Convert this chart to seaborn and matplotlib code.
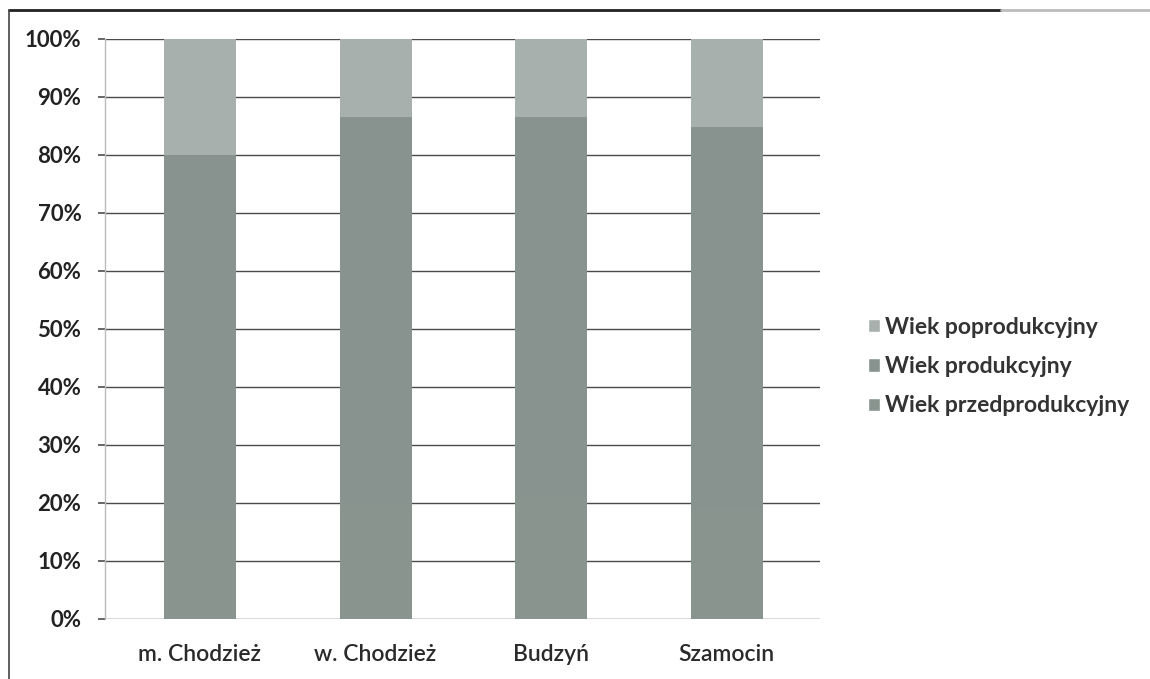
import numpy as np
import pandas as pd
import matplotlib
matplotlib.use("Agg")
import matplotlib.pyplot as plt
import seaborn as sns
from matplotlib.lines import Line2D
from matplotlib.patches import Patch
from matplotlib.ticker import PercentFormatter

categories = ["m. Chodzież", "w. Chodzież", "Budzyń", "Szamocin"]
przedprodukcyjny = [17.0, 20.0, 21.0, 19.0]
produkcyjny = [63.0, 66.6, 65.6, 65.8]
poprodukcyjny = [20.0, 13.4, 13.4, 15.2]
series_names = ["Wiek przedprodukcyjny", "Wiek produkcyjny", "Wiek poprodukcyjny"]
colors = ["#89948f", "#88938f", "#a7b0ac"]
y_ticks = [0, 10, 20, 30, 40, 50, 60, 70, 80, 90, 100]

sns.set_theme(style="white")
plt.rcParams['font.family'] = ['Lato', 'DejaVu Sans']

df = pd.DataFrame({
    "cat": categories,
    "przed": przedprodukcyjny,
    "prod": produkcyjny,
    "po": poprodukcyjny,
})
df["c1"] = df["przed"]
df["c2"] = df["przed"] + df["prod"]
df["c3"] = df["c2"] + df["po"]

fig = plt.figure(figsize=(11.5, 6.79), dpi=100)
ax = fig.add_axes([0.0913, 0.0884, 0.6217, 0.8542])

for col, c in zip(["c3", "c2", "c1"], [colors[2], colors[1], colors[0]]):
    sns.barplot(data=df, x="cat", y=col, color=c, width=0.41, ax=ax,
                saturation=1, edgecolor="none", linewidth=0, zorder=3)

ax.set_ylim(0, 100)
ax.set_xlim(-0.54, 3.53)
ax.set_yticks(y_ticks)
ax.yaxis.set_major_formatter(PercentFormatter(decimals=0))
ax.grid(axis="y", color="#4a4a4a", linewidth=1.0, zorder=0)
ax.set_axisbelow(True)
for s in ["top", "right", "bottom"]:
    ax.spines[s].set_visible(False)
ax.spines["left"].set_color("#bbbbbb")
ax.spines["left"].set_linewidth(1.0)
ax.tick_params(axis="y", length=5, color="#555555", pad=12, labelsize=16,
               labelcolor="#222222", left=True)
ax.tick_params(axis="x", length=0, pad=18, labelsize=16.5, labelcolor="#2a2a2a")
for lbl in ax.get_yticklabels():
    lbl.set_fontweight("bold")
for lbl in ax.get_xticklabels():
    lbl.set_fontweight("semibold")
ax.set_xlabel("")
ax.set_ylabel("")

handles = [Patch(facecolor=colors[2]), Patch(facecolor=colors[1]), Patch(facecolor=colors[0])]
labels = [series_names[2], series_names[1], series_names[0]]
leg = fig.legend(handles, labels, loc="center left", bbox_to_anchor=(0.737, 0.46),
                 frameon=False, fontsize=16.5, handlelength=0.5, handleheight=0.5,
                 handletextpad=0.25, labelspacing=0.8)
for t in leg.get_texts():
    t.set_fontweight("bold")
    t.set_color("#333333")

# scan frame lines
fig.add_artist(Line2D([0.008, 0.87], [0.985, 0.985], transform=fig.transFigure,
                      color="#222222", linewidth=2))
fig.add_artist(Line2D([0.87, 1.0], [0.985, 0.985], transform=fig.transFigure,
                      color="#bbbbbb", linewidth=2))
fig.add_artist(Line2D([0.008, 0.008], [0.0, 0.985], transform=fig.transFigure,
                      color="#444444", linewidth=1.2))

fig.savefig("out.png", dpi=100, facecolor="white")
